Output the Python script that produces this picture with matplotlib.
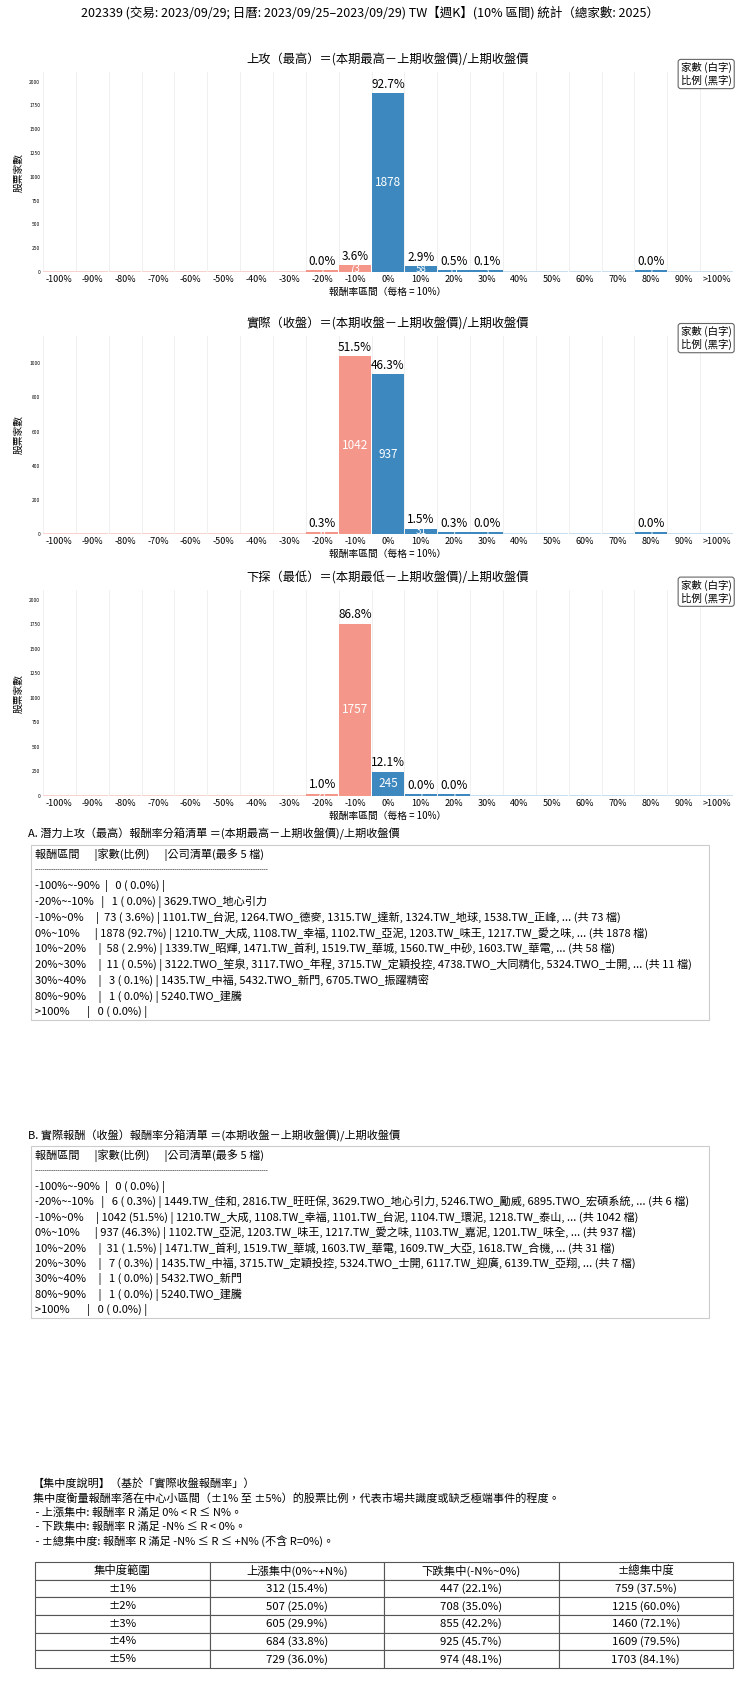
import matplotlib
matplotlib.use("Agg")
import matplotlib.pyplot as plt
from matplotlib.patches import Rectangle

plt.rcParams['font.family'] = ['Noto Sans CJK TC', 'DejaVu Sans']

TOTAL = 2025
bins = ['-100%','-90%','-80%','-70%','-60%','-50%','-40%','-30%','-20%','-10%',
        '0%','10%','20%','30%','40%','50%','60%','70%','80%','90%','>100%']
high_counts  = [0,0,0,0,0,0,0,0,1,73,1878,58,11,3,0,0,0,0,1,0,0]
close_counts = [0,0,0,0,0,0,0,0,6,1042,937,31,7,1,0,0,0,0,1,0,0]
low_counts   = [0,0,0,0,0,0,0,0,21,1757,245,1,1,0,0,0,0,0,0,0,0]

titles = ['上攻（最高）＝(本期最高－上期收盤價)/上期收盤價',
          '實際（收盤）＝(本期收盤－上期收盤價)/上期收盤價',
          '下探（最低）＝(本期最低－上期收盤價)/上期收盤價']
ylims = [2100, 1160, 2100]
yticks = [[0,250,500,750,1000,1250,1500,1750,2000],
          [0,200,400,600,800,1000],
          [0,250,500,750,1000,1250,1500,1750,2000]]

W, H = 740, 1691
fig = plt.figure(figsize=(W/100, H/100), dpi=100)

def fy(py):
    return 1 - py / H

fig.text(0.5, fy(13), '202339 (交易: 2023/09/29; 日曆: 2023/09/25–2023/09/29) TW【週K】(10% 區間) 統計（總家數: 2025）',
         ha='center', va='center', fontsize=9)

NEG = '#F4968A'; POS = '#3D88BF'; NEG_L = '#F8D3CE'; POS_L = '#C9DFEF'
axes_px = [(72, 272), (336, 534), (590, 796)]
for k, counts in enumerate([high_counts, close_counts, low_counts]):
    top, bot = axes_px[k]
    ax = fig.add_axes([43/W, fy(bot), 690/W, (bot-top)/H])
    x = list(range(len(bins)))
    mn = ylims[k] * 0.006
    cols, hs = [], []
    for i, c in enumerate(counts):
        neg = i < 10
        if c == 0:
            cols.append(NEG_L if neg else POS_L); hs.append(mn)
        else:
            cols.append(NEG if neg else POS); hs.append(max(c, mn*1.5))
    ax.bar(x, hs, width=0.98, color=cols, zorder=2)
    for i, c in enumerate(counts):
        if c > 0:
            ax.text(i, hs[i] + ylims[k]*0.012, f'{c/TOTAL*100:.1f}%', ha='center', va='bottom', fontsize=8.5)
            ax.text(i, hs[i]/2, str(c), ha='center', va='center', fontsize=8.5 if c > 100 else 7, color='white')
    ax.set_xlim(-0.5, len(bins)-0.5)
    ax.set_ylim(0, ylims[k])
    ax.set_xticks(x)
    ax.set_xticklabels(bins, fontsize=6.5)
    ax.set_yticks(yticks[k])
    ax.set_yticklabels([str(v) for v in yticks[k]], fontsize=3.5)
    ax.tick_params(length=0, pad=2)
    for xb in range(len(bins)+1):
        ax.axvline(xb-0.5, color='#eeeeee', lw=0.6, zorder=0)
    for s in ax.spines.values():
        s.set_visible(False)
    ax.axhline(0, color='#dddddd', lw=0.6)
    ax.set_title(titles[k], fontsize=8.8, pad=6)
    ax.set_ylabel('股票家數', fontsize=7, labelpad=4)
    ax.set_xlabel('報酬率區間（每格 = 10%）', fontsize=7, labelpad=2)
    ax.text(0.998, 1.05, '家數 (白字)\n比例 (黑字)', transform=ax.transAxes, ha='right', va='top',
            fontsize=7.5, bbox=dict(boxstyle='round,pad=0.25', fc='white', ec='#666666', lw=0.8))

sepline = '-' * 110
listA = ['報酬區間      |家數(比例)      |公司清單(最多 5 檔)', sepline,
         '-100%~-90%  |   0 ( 0.0%) |',
         '-20%~-10%   |   1 ( 0.0%) | 3629.TWO_地心引力',
         '-10%~0%     |  73 ( 3.6%) | 1101.TW_台泥, 1264.TWO_德麥, 1315.TW_達新, 1324.TW_地球, 1538.TW_正峰, ... (共 73 檔)',
         '0%~10%      | 1878 (92.7%) | 1210.TW_大成, 1108.TW_幸福, 1102.TW_亞泥, 1203.TW_味王, 1217.TW_愛之味, ... (共 1878 檔)',
         '10%~20%     |  58 ( 2.9%) | 1339.TW_昭輝, 1471.TW_首利, 1519.TW_華城, 1560.TW_中砂, 1603.TW_華電, ... (共 58 檔)',
         '20%~30%     |  11 ( 0.5%) | 3122.TWO_笙泉, 3117.TWO_年程, 3715.TW_定穎投控, 4738.TWO_大同精化, 5324.TWO_士開, ... (共 11 檔)',
         '30%~40%     |   3 ( 0.1%) | 1435.TW_中福, 5432.TWO_新門, 6705.TWO_振躍精密',
         '80%~90%     |   1 ( 0.0%) | 5240.TWO_建騰',
         '>100%       |   0 ( 0.0%) |']
listB = ['報酬區間      |家數(比例)      |公司清單(最多 5 檔)', sepline,
         '-100%~-90%  |   0 ( 0.0%) |',
         '-20%~-10%   |   6 ( 0.3%) | 1449.TW_佳和, 2816.TW_旺旺保, 3629.TWO_地心引力, 5246.TWO_勵威, 6895.TWO_宏碩系統, ... (共 6 檔)',
         '-10%~0%     | 1042 (51.5%) | 1210.TW_大成, 1108.TW_幸福, 1101.TW_台泥, 1104.TW_環泥, 1218.TW_泰山, ... (共 1042 檔)',
         '0%~10%      | 937 (46.3%) | 1102.TW_亞泥, 1203.TW_味王, 1217.TW_愛之味, 1103.TW_嘉泥, 1201.TW_味全, ... (共 937 檔)',
         '10%~20%     |  31 ( 1.5%) | 1471.TW_首利, 1519.TW_華城, 1603.TW_華電, 1609.TW_大亞, 1618.TW_合機, ... (共 31 檔)',
         '20%~30%     |   7 ( 0.3%) | 1435.TW_中福, 3715.TW_定穎投控, 5324.TWO_士開, 6117.TW_迎廣, 6139.TW_亞翔, ... (共 7 檔)',
         '30%~40%     |   1 ( 0.0%) | 5432.TWO_新門',
         '80%~90%     |   1 ( 0.0%) | 5240.TWO_建騰',
         '>100%       |   0 ( 0.0%) |']

def draw_list(title, lines, ty, box_top, box_bot):
    fig.text(28/W, fy(ty), title, ha='left', va='center', fontsize=8)
    fig.patches.append(Rectangle((31/W, fy(box_bot)), 678/W, (box_bot-box_top)/H,
                                 transform=fig.transFigure, fill=False, ec='#cccccc', lw=0.8))
    step = (box_bot - box_top - 18) / (len(lines) - 1)
    for j, ln in enumerate(lines):
        fs = 4.5 if ln == sepline else 8
        fig.text(35/W, fy(box_top + 10 + j*step), ln, ha='left', va='center', fontsize=fs)

draw_list('A. 潛力上攻（最高）報酬率分箱清單 ＝(本期最高－上期收盤價)/上期收盤價', listA, 834, 845, 1020)
draw_list('B. 實際報酬（收盤）報酬率分箱清單 ＝(本期收盤－上期收盤價)/上期收盤價', listB, 1136, 1146, 1318)

expl = ['【集中度說明】（基於「實際收盤報酬率」）',
        '集中度衡量報酬率落在中心小區間（±1% 至 ±5%）的股票比例，代表市場共識度或缺乏極端事件的程度。',
        ' - 上漲集中: 報酬率 R 滿足 0% < R ≤ N%。',
        ' - 下跌集中: 報酬率 R 滿足 -N% ≤ R < 0%。',
        ' - ±總集中度: 報酬率 R 滿足 -N% ≤ R ≤ +N% (不含 R=0%)。']
for j, ln in enumerate(expl):
    fig.text(33/W, fy(1484 + j*14.3), ln, ha='left', va='center', fontsize=8)

tbl_header = ['集中度範圍', '上漲集中(0%~+N%)', '下跌集中(-N%~0%)', '±總集中度']
ranges = ['±1%', '±2%', '±3%', '±4%', '±5%']
up_conc = ['312 (15.4%)', '507 (25.0%)', '605 (29.9%)', '684 (33.8%)', '729 (36.0%)']
down_conc = ['447 (22.1%)', '708 (35.0%)', '855 (42.2%)', '925 (45.7%)', '974 (48.1%)']
total_conc = ['759 (37.5%)', '1215 (60.0%)', '1460 (72.1%)', '1609 (79.5%)', '1703 (84.1%)']

tax = fig.add_axes([35/W, fy(1668), 698/W, 106/H])
tax.axis('off')
cells = [[r, u, d, t] for r, u, d, t in zip(ranges, up_conc, down_conc, total_conc)]
tb = tax.table(cellText=cells, colLabels=tbl_header, loc='upper left', cellLoc='center',
               bbox=[0, 0, 1, 1])
tb.auto_set_font_size(False)
for (r, c), cell in tb.get_celld().items():
    cell.set_fontsize(8.2)
    cell.set_edgecolor('#555555')
    cell.set_linewidth(0.8)

fig.savefig('out.png', dpi=100)
